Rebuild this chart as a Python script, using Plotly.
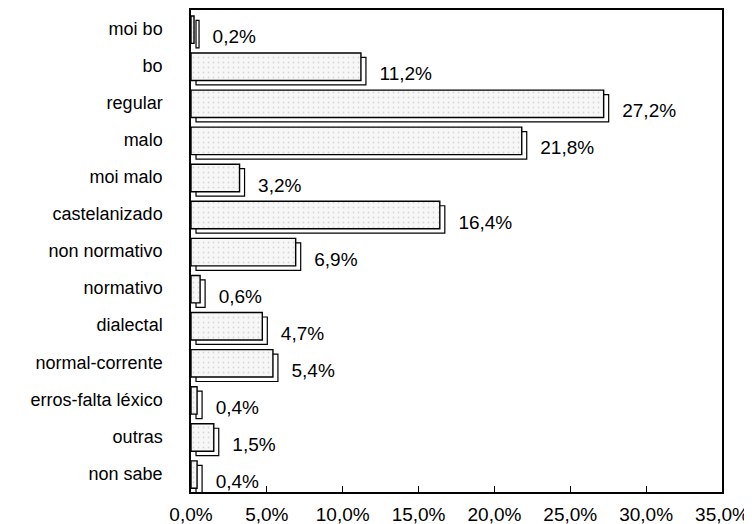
import plotly.graph_objects as go

categorias = [
    "moi bo", "bo", "regular", "malo", "moi malo", "castelanizado",
    "non normativo", "normativo", "dialectal", "normal-corrente",
    "erros-falta léxico", "outras", "non sabe",
]
porcentaxes = [0.2, 11.2, 27.2, 21.8, 3.2, 16.4, 6.9, 0.6, 4.7, 5.4, 0.4, 1.5, 0.4]
ticks_x = [0, 5, 10, 15, 20, 25, 30, 35]
etiquetas_x = [f"{v:.1f}%".replace(".", ",") for v in ticks_x]

# efecto 3D: desprazamento da sombra
fondo_x = 0.33
fondo_y = 0.12
ancho = 0.74
desprazamento = -0.34

posicions = list(range(len(categorias)))
fonte = "Liberation Sans, Arial"

fig = go.Figure()

# sombra (cara lateral / inferior)
fig.add_trace(
    go.Bar(
        y=posicions,
        x=porcentaxes,
        base=fondo_x,
        orientation="h",
        width=ancho,
        offset=desprazamento + fondo_y,
        marker=dict(color="white", line=dict(color="black", width=1.2)),
        showlegend=False,
        hoverinfo="skip",
    )
)

# cara frontal
fig.add_trace(
    go.Bar(
        y=posicions,
        x=porcentaxes,
        orientation="h",
        width=ancho,
        offset=desprazamento,
        marker=dict(
            color="#f7f7f7",
            line=dict(color="black", width=1.4),
            pattern=dict(shape=".", fgcolor="#b8b8b8", size=5, solidity=0.1, fillmode="overlay"),
        ),
        showlegend=False,
    )
)

# etiquetas de valor (barra invisible, algo máis abaixo)
fig.add_trace(
    go.Bar(
        y=posicions,
        x=porcentaxes,
        base=fondo_x,
        orientation="h",
        width=0.2,
        offset=0.12,
        marker=dict(color="rgba(0,0,0,0)", line=dict(width=0)),
        texttemplate="\u00a0\u00a0%{x:.1f}%",
        textposition="outside",
        constraintext="none",
        textfont=dict(family=fonte, size=19, color="black"),
        cliponaxis=False,
        showlegend=False,
        hoverinfo="skip",
    )
)

# a páxina ten unha marxe de 8 px no body
fig.update_layout(
    width=744,
    height=516,
    margin=dict(l=183, r=30, t=2, b=32),
    paper_bgcolor="white",
    plot_bgcolor="white",
    barmode="overlay",
    separators=",.",
    font=dict(family=fonte, size=18, color="black"),
    xaxis=dict(
        range=[0, 35],
        tickvals=ticks_x,
        ticktext=etiquetas_x,
        ticks="inside",
        ticklen=6,
        tickcolor="black",
        tickwidth=1.2,
        showline=True,
        linecolor="black",
        linewidth=1.5,
        mirror=True,
        showgrid=False,
        zeroline=False,
        tickfont=dict(size=19),
        ticklabelstandoff=4,
        automargin=False,
    ),
    yaxis=dict(
        range=[len(categorias) - 0.5, -0.5],
        tickvals=posicions,
        ticktext=categorias,
        ticks="",
        showline=True,
        linecolor="black",
        linewidth=1.5,
        mirror=True,
        showgrid=False,
        zeroline=False,
        tickfont=dict(size=18),
        ticklabelstandoff=23,
        automargin=False,
    ),
)

fig.write_html("out.html")
